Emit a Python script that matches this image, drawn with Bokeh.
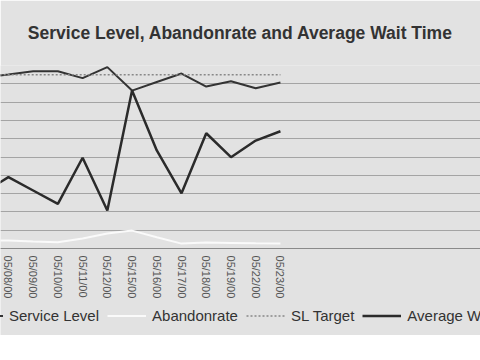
from bokeh.plotting import figure
from bokeh.models import FixedTicker, Legend, LegendItem, Range1d, Title
from bokeh.embed import file_html
from bokeh.resources import INLINE

# ---- data ----
dates = ["05/05/00", "05/08/00", "05/09/00", "05/10/00", "05/11/00", "05/12/00",
         "05/15/00", "05/16/00", "05/17/00", "05/18/00", "05/19/00", "05/22/00", "05/23/00"]
service_level = [93.4, 95.1, 96.9, 96.9, 93.1, 99.1, 86.3, 91.0, 95.6, 88.5, 91.4, 87.6, 90.7]
abandon_rate = [4.2, 4.4, 3.9, 3.5, 5.5, 8.2, 9.8, 6.2, 2.7, 3.3, 3.1, 2.9, 2.8]
sl_target = [95.0] * len(dates)
avg_wait = [30.6, 39.0, 31.7, 24.4, 49.6, 20.8, 86.3, 53.6, 30.2, 63.0, 49.9, 59.0, 64.1]

xs = list(range(-1, len(dates) - 1))
tick_idx = [i for i in xs if i >= 0]
labels = {i: d for i, d in zip(xs, dates)}

BG = "#e2e2e2"

p = figure(width=480, height=335, output_backend="svg", toolbar_location=None,
           x_range=Range1d(-0.32, 19.09), y_range=Range1d(-47.5, 100),
           min_border_left=0, min_border_right=0, min_border_top=65, min_border_bottom=0,
           background_fill_color=BG, border_fill_color=BG, outline_line_color=None)

# the date axis (the figure's own bottom axis)
ax = p.below[0]
ax.fixed_location = 0
ax.ticker = FixedTicker(ticks=tick_idx)
ax.major_label_overrides = {i: labels[i] for i in tick_idx}
ax.major_label_orientation = "vertical"
ax.major_label_text_font = "Liberation Sans"
ax.major_label_text_font_size = "11px"
ax.major_label_text_color = "#555555"
ax.axis_line_color = "#8a8a8a"
ax.major_tick_line_color = None
ax.minor_tick_line_color = None
ax.major_label_standoff = 1

p.title = Title(text="Service Level, Abandonrate and Average Wait Time", align="center",
                vertical_align="top",
                text_font="Liberation Sans", text_font_size="17.5px", text_font_style="bold",
                text_color="#333333", standoff=42)

p.yaxis.visible = False
p.xgrid.grid_line_color = None
p.ygrid.ticker = FixedTicker(ticks=list(range(0, 101, 10)))
p.ygrid.grid_line_color = "#a4a4a4"
p.ygrid.grid_line_width = 1

r_sl = p.line(xs, service_level, line_color="#333333", line_width=2)
r_ab = p.line(xs, abandon_rate, line_color="#fafafa", line_width=2)
r_tg = p.line(xs, sl_target, line_color="#888888", line_width=1.5, line_dash="2 2")
r_wt = p.line(xs, avg_wait, line_color="#2b2b2b", line_width=2.5)

legend = Legend(items=[
    LegendItem(label="Service Level", renderers=[r_sl]),
    LegendItem(label="Abandonrate", renderers=[r_ab]),
    LegendItem(label="SL Target", renderers=[r_tg]),
    LegendItem(label="Average Wait Time", renderers=[r_wt]),
], orientation="horizontal", location=(-36, 11), padding=2, margin=0, spacing=8,
   glyph_width=39, glyph_height=15, label_standoff=6,
   label_text_font="Liberation Sans", label_text_font_size="15px", label_text_color="#333333",
   border_line_color=None, background_fill_alpha=0)
p.add_layout(legend)

open("out.html", "w").write(file_html(p, INLINE))
